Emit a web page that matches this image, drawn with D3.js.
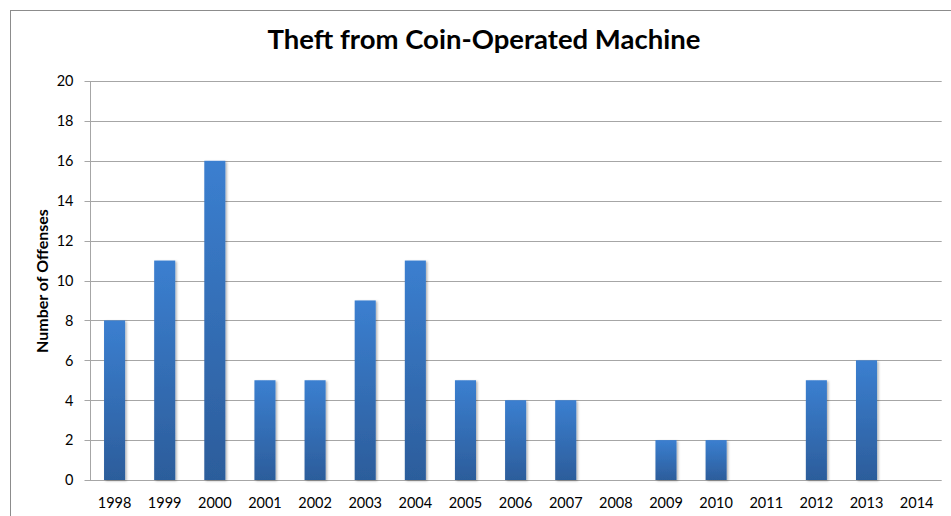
<!DOCTYPE html>
<html><head><meta charset="utf-8">
<script src="https://cdn.jsdelivr.net/npm/d3@7"></script>
<style>body{margin:0;background:#fff}svg{display:block}text{font-family:Lato,"Open Sans",sans-serif}</style>
</head><body>
<script>
const years = ["1998","1999","2000","2001","2002","2003","2004","2005","2006","2007","2008","2009","2010","2011","2012","2013","2014"];
const offenses = [8,11,16,5,5,9,11,5,4,4,0,2,2,0,5,6,0];
const yTicks = [0,2,4,6,8,10,12,14,16,18,20];
const title = "Theft from Coin-Operated Machine";
const yTitle = "Number of Offenses";

const W=951,H=516;
const svg=d3.select("body").append("svg").attr("width",W).attr("height",H);
const defs=svg.append("defs");
const g=defs.append("linearGradient").attr("id","bg").attr("x1",0).attr("x2",0).attr("y1",0).attr("y2",1);
g.append("stop").attr("offset","0%").attr("stop-color","#3b7fd0");
g.append("stop").attr("offset","100%").attr("stop-color","#2c5d9b");
const f=defs.append("filter").attr("id","sh").attr("x","-20%").attr("y","-5%").attr("width","150%").attr("height","115%");
f.append("feDropShadow").attr("dx",1.5).attr("dy",1).attr("stdDeviation",1.2).attr("flood-color","#000").attr("flood-opacity",0.3);

svg.append("rect").attr("x",10.5).attr("y",10.5).attr("width",960).attr("height",520).attr("fill","none").attr("stroke","#8c8c8c").attr("stroke-width",1);

const L=89.5,R=941.7,T=81,B=480;
const x=d3.scaleBand().domain(years).range([L,R]).paddingInner(0.58).paddingOuter(0.29);
const y=d3.scaleLinear().domain([0,20]).range([B,T]);

const grid=svg.append("g");
grid.selectAll("line").data(yTicks).join("line")
 .attr("x1",L-5).attr("x2",R).attr("y1",d=>Math.round(y(d))+0.5).attr("y2",d=>Math.round(y(d))+0.5)
 .attr("stroke","#a6a6a6").attr("stroke-width",1);
svg.append("line").attr("x1",Math.round(L)+0.5).attr("x2",Math.round(L)+0.5).attr("y1",T).attr("y2",B).attr("stroke","#a6a6a6");

svg.append("g").selectAll("text").data(yTicks).join("text")
 .attr("x",73.5).attr("y",d=>y(d)+5.3)
 .attr("text-anchor","end")
 .attr("font-size",14.5).attr("fill","#000").text(d=>d);

svg.append("g").selectAll("rect").data(years).join("rect")
 .attr("x",(d)=>x(d)).attr("width",x.bandwidth())
 .attr("y",(d,i)=>y(offenses[i])).attr("height",(d,i)=>B-y(offenses[i]))
 .attr("fill","url(#bg)").attr("filter","url(#sh)");

svg.append("g").selectAll("text").data(years).join("text")
 .attr("x",d=>x(d)+x.bandwidth()/2).attr("y",507.7).attr("text-anchor","middle")
 .attr("font-size",14.5).attr("fill","#000").text(d=>d);

svg.append("text").attr("x",484).attr("y",49.3).attr("text-anchor","middle")
 .attr("font-size",27.5).attr("font-weight","bold").text(title);

svg.append("text").attr("transform","translate(48.3,281) rotate(-90)").attr("text-anchor","middle")
 .attr("font-size",16).attr("font-weight","bold").text(yTitle);
</script>
</body></html>
